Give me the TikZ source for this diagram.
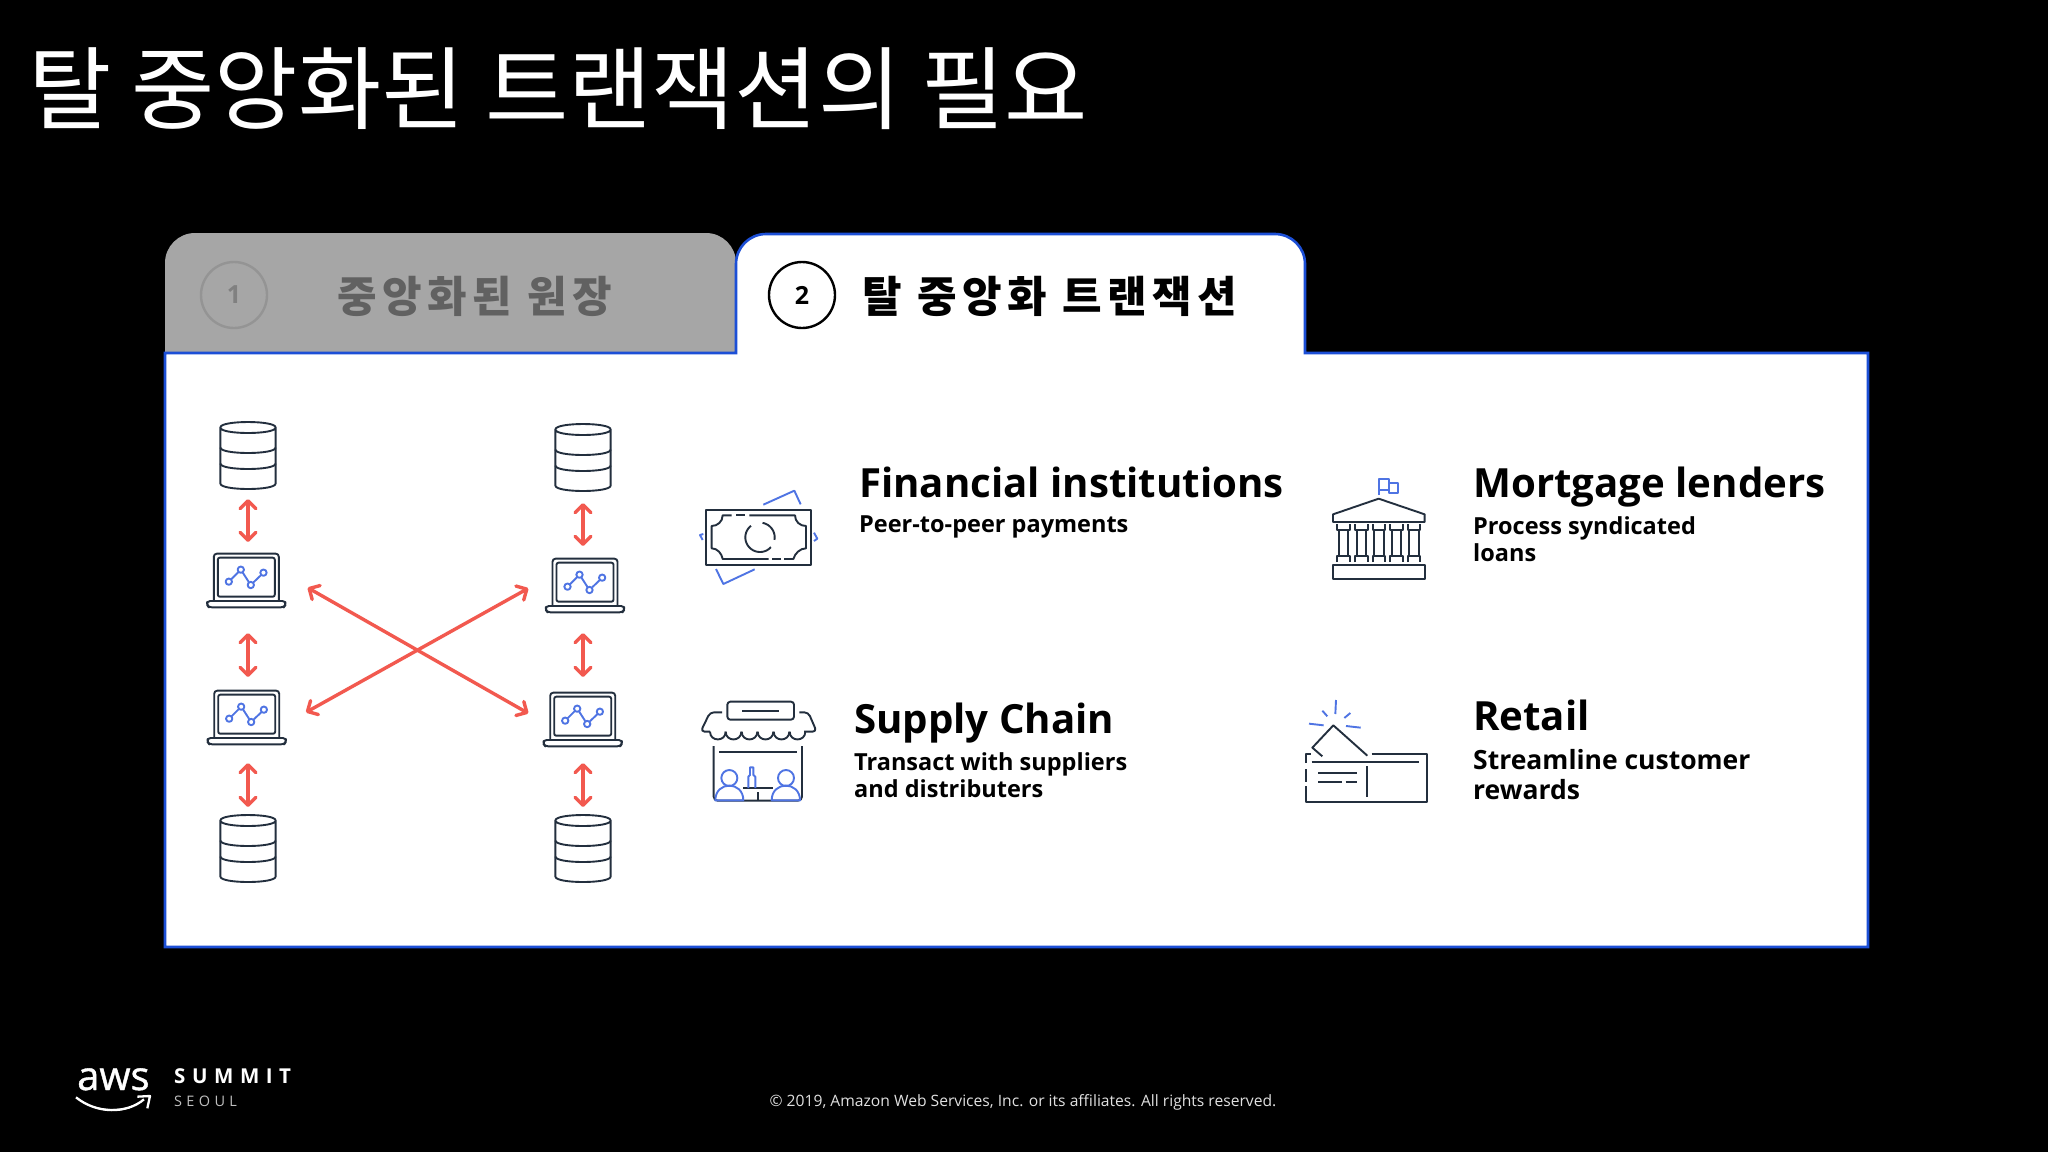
\documentclass[tikz,border=0pt]{standalone}
\usepackage{fontspec}
\setmainfont{Open Sans}
\newfontfamily\cjk{Noto Sans CJK KR}
\newfontfamily\cjkwide[LetterSpace=13]{Noto Sans CJK KR}
\usetikzlibrary{arrows.meta}
\definecolor{inkdark}{HTML}{232F3E}
\definecolor{iconblue}{HTML}{4F74E3}
\definecolor{linkred}{HTML}{F2594F}
\definecolor{panelblue}{HTML}{1C4FD6}
\tikzset{
  inkline/.style={draw=inkdark, line width=1.9pt, line join=round},
  blueline/.style={draw=iconblue, line width=1.9pt, line join=round},
  link/.style={draw=linkred, line width=3.4pt, {Straight Barb[length=8pt,width=16pt,round]}-{Straight Barb[length=8pt,width=16pt,round]}},
  dbnode/.style={inner sep=0pt, outer sep=0pt, minimum width=56pt, minimum height=67pt},
  lapnode/.style={inner sep=0pt, outer sep=0pt, minimum width=78pt, minimum height=53pt},
  headtext/.style={inner sep=0pt, anchor=base west, text=black, font=\fontsize{40.2}{46}\selectfont\bfseries},
  subtext/.style={inner sep=0pt, anchor=north west, align=left, text=black, font=\fontsize{23.5}{27}\selectfont\bfseries},
  numcircle/.style={circle, line width=2.4pt, minimum size=66pt, inner sep=0pt, font=\fontsize{25}{30}\selectfont\bfseries},
  pics/dbicon/.style={code={
    \begin{scope}[scale=1/3, shift={(-205,-166)}]
      \draw[inkline] (122,82) .. controls (122,60) and (288,60) .. (288,82) .. controls (288,104) and (122,104) .. (122,82)
        -- (122,250) .. controls (122,272) and (288,272) .. (288,250) -- (288,82);
      \draw[inkline] (122,142) .. controls (122,164) and (288,164) .. (288,142);
      \draw[inkline] (122,190) .. controls (122,212) and (288,212) .. (288,190);
    \end{scope}
  }},
  pics/lapicon/.style={code={
    \begin{scope}[scale=1/3, shift={(-197.5,-541.5)}]
      \draw[inkline, rounded corners=3pt] (100,603) -- (100,461) -- (295,461) -- (295,603);
      \draw[inkline, rounded corners=2pt] (112,473) rectangle (283,590);
      \draw[inkline, rounded corners=3pt] (80,603) -- (315,603) -- (315,615) -- (310,622) -- (85,622) -- (80,615) -- cycle;
      \draw[blueline] (152,538) -- (174,516) (187,518) -- (205,546) (219,547) -- (242,525);
      \foreach \cx/\cy in {145/545, 181/509, 211/555, 249/518}
        \draw[blueline] (\cx,\cy) circle (9.5);
    \end{scope}
  }},
}

\begin{document}
\begin{tikzpicture}[x=1pt, y=-1pt]
  \useasboundingbox (0,0) rectangle (2048,1152);
  \fill[black] (0,0) rectangle (2048,1152);

  \node[inner sep=0pt, anchor=base west, text=white, font=\fontsize{90.5}{100}\selectfont\cjk] (title) at (28,122) {탈 중앙화된 트랜잭션의 필요};

  \fill[fill=black!35] (165,353) [rounded corners=30pt] -- (165,233) -- (736,233) [sharp corners] -- (736,353) -- cycle;
  \filldraw[fill=white, draw=panelblue, line width=2.6pt]
    (736,353) [rounded corners=30pt] -- (736,234) -- (1305,234) [sharp corners] -- (1305,353)
    -- (1868,353) -- (1868,947) -- (165,947) -- (165,353) -- cycle;

  \node[numcircle, draw=black!42, text=black!50] (numA) at (234,295) {1};
  \node[numcircle, draw=black] (numB) at (802,295) {2};
  \node[inner sep=0pt, anchor=west, text=black!62, font=\fontsize{43}{48}\selectfont\bfseries\cjkwide] (tabA) at (337,296) {중앙화된 원장};
  \node[inner sep=0pt, anchor=west, text=black, font=\fontsize{43}{48}\selectfont\bfseries\cjkwide] (tabB) at (862,296) {탈 중앙화 트랜잭션};

  \node[dbnode] (dbTL) at (248,455.5) {};
  \node[dbnode] (dbTR) at (583,457.5) {};
  \node[dbnode] (dbBL) at (248,848.5) {};
  \node[dbnode] (dbBR) at (583,848.5) {};
  \node[lapnode] (lapTL) at (246.3,580.5) {};
  \node[lapnode] (lapTR) at (585,585.5) {};
  \node[lapnode] (lapBL) at (246.7,717.5) {};
  \node[lapnode] (lapBR) at (582.7,719.5) {};
  \foreach \n in {dbTL,dbTR,dbBL,dbBR} \pic at (\n) {dbicon};
  \foreach \n in {lapTL,lapTR,lapBL,lapBR} \pic at (\n) {lapicon};

  \draw[link, shorten <=10pt, shorten >=12pt] (dbTL.south) -- (lapTL.north -| dbTL);
  \draw[link, shorten <=26pt, shorten >=14pt] (lapTL.south -| dbTL) -- (lapBL.north -| dbTL);
  \draw[link, shorten <=19pt, shorten >=8pt] (lapBL.south -| dbBL) -- (dbBL.north);
  \draw[link, shorten <=12pt, shorten >=13pt] (dbTR.south) -- (lapTR.north -| dbTR);
  \draw[link, shorten <=21pt, shorten >=16pt] (lapTR.south -| dbTR) -- (lapBR.north -| dbTR);
  \draw[link, shorten <=17pt, shorten >=8pt] (lapBR.south -| dbBR) -- (dbBR.north);

  \coordinate (crossTL) at (307.7,587.7);
  \coordinate (crossBR) at (528.3,713.3);
  \coordinate (crossTR) at (528.3,588.3);
  \coordinate (crossBL) at (306,712.3);
  \draw[link] (crossTL) -- (crossBR);
  \draw[link] (crossBL) -- (crossTR);

  % money and shop
  \begin{scope}[shift={(680,460)}, scale=1/3]
    \draw[inkline] (79,150) rectangle (393,314);
    \draw[inkline] (208,166) -- (345,166) .. controls (345,185) and (360,198) .. (378,198) -- (378,265)
      .. controls (360,265) and (345,280) .. (340,297) -- (312,297);
    \draw[inkline] (303,297) -- (277,297);
    \draw[inkline] (266,297) -- (128,297) .. controls (125,280) and (112,265) .. (95,265) -- (95,198)
      .. controls (112,198) and (128,185) .. (128,166) -- (155,166);
    \draw[inkline] (168,166) -- (196,166);
    \draw[inkline] plot[domain=-80:10, samples=20] ({240+44*cos(\x)},{232+44*sin(\x)});
    \draw[inkline] plot[domain=42:232, samples=30] ({240+44*cos(\x)},{232+44*sin(\x)});
    \draw[blueline] (250,134) -- (343,92) -- (362,133);
    \draw[blueline] (224,328) -- (130,372) -- (108,327);
    \draw[blueline] (70,222) -- (60,225) -- (68,240);
    \draw[blueline] (402,218) -- (412,236) -- (402,243);

    \draw[inkline, rounded corners=3pt] (142,725) rectangle (342,779);
    \draw[inkline] (186,752) -- (298,752);
    \draw[inkline, rounded corners=4pt] (126,757) -- (90,757) -- (62,815) -- (90,815);
    \draw[inkline, rounded corners=4pt] (358,757) -- (385,757) -- (410,815) -- (372,815);
    \foreach \sx in {90,137,185,233,281,329}
      \draw[inkline] (\sx,815) .. controls (\sx,846) and (\sx+47,846) .. (\sx+47,815);
    \draw[inkline, rounded corners=4pt] (101,858) -- (101,1022) -- (366,1022) -- (366,858);
    \draw[inkline] (118,877) -- (352,877);
    \draw[inkline] (190,984) -- (278,984) (233,996) -- (233,1022);
    \draw[blueline] (148,954) circle (24) (318,954) circle (24);
    \draw[blueline] (106,1021) .. controls (106,962) and (190,962) .. (190,1021) -- cycle;
    \draw[blueline] (275,1021) .. controls (275,962) and (360,962) .. (360,1021) -- cycle;
    \draw[blueline] (205,984) -- (205,950) -- (210,945) -- (210,922) -- (220,922) -- (220,945) -- (226,950) -- (226,984);
  \end{scope}

  % bank and card
  \begin{scope}[shift={(1280,460)}, scale=1/3]
    \draw[blueline] (296,105) -- (296,56) -- (326,56) -- (326,98) -- (353,98) -- (353,68) -- (326,68);
    \draw[blueline] (296,90) -- (326,90);
    \draw[inkline] (296,116) -- (159,163) -- (159,186) -- (434,186) -- (434,163) -- cycle;
    \foreach \cx in {191,244,297,350,402} {
      \draw[inkline] (\cx-19,192) -- (\cx-19,210) -- (\cx+19,210) -- (\cx+19,192);
      \draw[inkline] (\cx-19,306) -- (\cx-19,287) -- (\cx+19,287) -- (\cx+19,306);
      \draw[inkline] (\cx-14,210) -- (\cx-14,287) (\cx+14,210) -- (\cx+14,287);
    }
    \draw[inkline] (159,315) rectangle (434,356);

    \draw[blueline] (168,720) -- (166,762) (127,752) -- (142,769) (211,759) -- (193,774) (87,791) -- (131,796) (198,798) -- (242,803);
    \draw[inkline] (127,889) -- (97,863) -- (160,796) -- (262,887);
    \draw[inkline] (275,881) -- (442,881) -- (442,1027) -- (77,1027) -- (77,978);
    \draw[inkline] (77,965) -- (77,927);
    \draw[inkline] (77,908) -- (77,881) -- (94,881);
    \draw[inkline] (95,906) -- (418,906) (115,939) -- (230,939) (115,967) -- (185,967) (197,967) -- (230,967) (260,918) -- (260,1012);
  \end{scope}

  \node[headtext] (finHead) at (859,497) {Financial institutions};
  \node[subtext] (finSub) at (859,516) {Peer-to-peer payments};
  \node[headtext] (morHead) at (1473,497) {Mortgage lenders};
  \node[subtext] (morSub) at (1473,516) {Process syndicated\\loans};
  \node[headtext] (supHead) at (854,733) {Supply Chain};
  \node[subtext] (supSub) at (854,752) {Transact with suppliers\\and distributers};
  \node[headtext] (retHead) at (1473,730) {Retail};
  \node[subtext, font=\fontsize{26.5}{30}\selectfont\bfseries] (retSub) at (1473,749) {Streamline customer\\rewards};

  \node[inner sep=0pt, text=black!12, font=\fontsize{15.65}{20}\selectfont] (copyright) at (1023,1102) {© 2019, Amazon Web Services, Inc. or its affiliates. All rights reserved.};

  \node[inner sep=0pt, anchor=base west, text=white, font=\fontsize{40}{48}\selectfont\addfontfeature{FakeBold=1}] (awsText) at (77,1090) {aws};
  \node[inner sep=0pt, anchor=base west, text=white, font=\fontsize{20.5}{24}\selectfont\bfseries\addfontfeature{LetterSpace=32}] (summit) at (174,1083) {SUMMIT};
  \node[inner sep=0pt, anchor=base west, text=black!25, font=\fontsize{14.5}{18}\selectfont\addfontfeature{LetterSpace=30}] (seoul) at (174,1106) {SEOUL};
  \begin{scope}[shift={(60,1040)}, scale=1/3]
    \fill[white] (48,172) .. controls (110,225) and (200,225) .. (250,180) .. controls (200,215) and (110,220) .. (48,172) -- cycle;
    \draw[white, line width=2.3pt] (48,172) .. controls (110,222) and (200,222) .. (252,178);
    \draw[white, line width=2.3pt, line join=round] (232,170) -- (270,168) -- (262,205);
  \end{scope}
\end{tikzpicture}
\end{document}
